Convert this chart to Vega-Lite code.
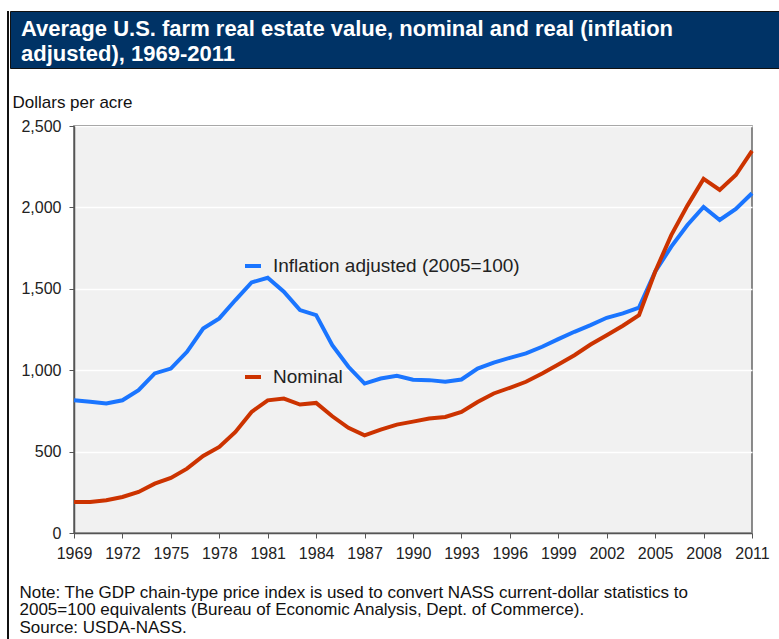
{
  "$schema": "https://vega.github.io/schema/vega-lite/v6.json",
  "background": "white",
  "padding": {"left": 7, "top": 10, "right": 0, "bottom": 0},
  "config": {
    "font": "Liberation Sans",
    "view": {"stroke": null}
  },
  "spacing": 0,
  "bounds": "full",
  "hconcat": [
    {
      "width": 2,
      "height": 629,
      "view": {"fill": "#111111", "stroke": null},
      "data": {"values": []},
      "mark": {"type": "point", "opacity": 0},
      "encoding": {}
    },
    {
      "spacing": 23,
      "bounds": "full",
      "vconcat": [
        {
          "width": 770,
          "height": 57,
          "view": {"fill": "#003366", "stroke": "#111111", "strokeWidth": 1},
          "data": {"values": [
            {"line": 1, "t": "Average U.S. farm real estate value, nominal and real (inflation"},
            {"line": 2, "t": "adjusted), 1969-2011"}
          ]},
          "mark": {"type": "text", "align": "left", "baseline": "middle", "dx": 11, "dy": 2, "color": "white", "fontSize": 22, "fontWeight": "bold"},
          "encoding": {
            "x": {"datum": 0, "type": "quantitative", "scale": {"domain": [0, 1]}, "axis": null},
            "y": {"field": "line", "type": "ordinal", "axis": null, "scale": {"type": "point", "padding": 0.64}},
            "text": {"field": "t"}
          }
        },
        {
          "spacing": 0,
          "bounds": "full",
          "hconcat": [
            {
              "width": 1,
              "height": 1,
              "view": {"fill": null, "stroke": null},
              "data": {"values": []},
              "mark": {"type": "point", "opacity": 0},
              "encoding": {}
            },
            {
              "width": 678,
              "height": 407,
              "view": {"fill": "#f1f1f1", "stroke": "#666666", "strokeWidth": 1.5},
              "data": {"values": [
                {"year": 1969, "real": 815, "nominal": 191},
                {"year": 1970, "real": 806, "nominal": 191},
                {"year": 1971, "real": 795, "nominal": 201},
                {"year": 1972, "real": 815, "nominal": 221},
                {"year": 1973, "real": 877, "nominal": 252},
                {"year": 1974, "real": 980, "nominal": 303},
                {"year": 1975, "real": 1010, "nominal": 338},
                {"year": 1976, "real": 1113, "nominal": 395},
                {"year": 1977, "real": 1256, "nominal": 473},
                {"year": 1978, "real": 1318, "nominal": 529},
                {"year": 1979, "real": 1431, "nominal": 621},
                {"year": 1980, "real": 1539, "nominal": 744},
                {"year": 1981, "real": 1568, "nominal": 815},
                {"year": 1982, "real": 1482, "nominal": 826},
                {"year": 1983, "real": 1369, "nominal": 789},
                {"year": 1984, "real": 1338, "nominal": 799},
                {"year": 1985, "real": 1154, "nominal": 717},
                {"year": 1986, "real": 1021, "nominal": 646},
                {"year": 1987, "real": 918, "nominal": 600},
                {"year": 1988, "real": 949, "nominal": 635},
                {"year": 1989, "real": 966, "nominal": 666},
                {"year": 1990, "real": 941, "nominal": 684},
                {"year": 1991, "real": 939, "nominal": 703},
                {"year": 1992, "real": 929, "nominal": 713},
                {"year": 1993, "real": 943, "nominal": 744},
                {"year": 1994, "real": 1010, "nominal": 805},
                {"year": 1995, "real": 1047, "nominal": 857},
                {"year": 1996, "real": 1076, "nominal": 892},
                {"year": 1997, "real": 1103, "nominal": 929},
                {"year": 1998, "real": 1144, "nominal": 980},
                {"year": 1999, "real": 1191, "nominal": 1035},
                {"year": 2000, "real": 1236, "nominal": 1092},
                {"year": 2001, "real": 1277, "nominal": 1158},
                {"year": 2002, "real": 1322, "nominal": 1215},
                {"year": 2003, "real": 1349, "nominal": 1273},
                {"year": 2004, "real": 1384, "nominal": 1338},
                {"year": 2005, "real": 1605, "nominal": 1605},
                {"year": 2006, "real": 1759, "nominal": 1830},
                {"year": 2007, "real": 1892, "nominal": 2011},
                {"year": 2008, "real": 2003, "nominal": 2175},
                {"year": 2009, "real": 1923, "nominal": 2107},
                {"year": 2010, "real": 1990, "nominal": 2199},
                {"year": 2011, "real": 2087, "nominal": 2347}
              ]},
              "transform": [{"fold": ["real", "nominal"], "as": ["series", "value"]}],
              "mark": {"type": "line", "strokeWidth": 4},
              "encoding": {
                "x": {
                  "field": "year", "type": "quantitative",
                  "scale": {"domain": [1969, 2011], "nice": false, "zero": false},
                  "axis": {
                    "values": [1969, 1972, 1975, 1978, 1981, 1984, 1987, 1990, 1993, 1996, 1999, 2002, 2005, 2008, 2011],
                    "format": "d", "grid": false, "tickSize": 5, "tickColor": "#555555", "domainColor": "#555555", "domainWidth": 1.5,
                    "labelFontSize": 16, "labelColor": "#222222", "labelPadding": 7, "labelFlush": false,
                    "title": ["Note: The GDP chain-type price index is used to convert NASS current-dollar statistics to", "2005=100 equivalents (Bureau of Economic Analysis, Dept. of Commerce).", "Source: USDA-NASS."],
                    "titleX": -55, "titleY": 51, "titleAlign": "left", "titleAnchor": "start", "titleBaseline": "top",
                    "titleFontSize": 17, "titleFontWeight": "normal", "titleColor": "#111111", "titleLineHeight": 17.5
                  }
                },
                "y": {
                  "field": "value", "type": "quantitative",
                  "scale": {"domain": [0, 2500], "nice": false},
                  "axis": {
                    "values": [0, 500, 1000, 1500, 2000, 2500], "format": ",d",
                    "grid": true, "gridColor": "white", "gridWidth": 1.5,
                    "tickSize": 5, "tickColor": "#555555", "domainColor": "#555555", "domainWidth": 1.5,
                    "labelFontSize": 16, "labelColor": "#222222", "labelPadding": 8,
                    "title": "Dollars per acre",
                    "titleAngle": 0, "titleX": -62, "titleY": -24, "titleAlign": "left", "titleBaseline": "middle",
                    "titleFontSize": 17, "titleFontWeight": "normal", "titleColor": "#111111"
                  }
                },
                "color": {
                  "field": "series", "type": "nominal",
                  "scale": {"domain": ["real", "nominal"], "range": ["#1a75ff", "#cc3300"]},
                  "legend": {
                    "orient": "none", "legendX": 236, "legendY": 245, "padding": 0,
                    "title": null, "direction": "vertical",
                    "symbolType": "stroke", "symbolSize": 256, "symbolStrokeWidth": 4,
                    "labelFontSize": 19, "labelColor": "#222222", "labelOffset": 10, "rowPadding": 91, "labelLimit": 400,
                    "labelExpr": "datum.label == 'real' ? 'Inflation adjusted (2005=100)' : 'Nominal'"
                  }
                }
              }
            }
          ]
        }
      ]
    }
  ]
}
